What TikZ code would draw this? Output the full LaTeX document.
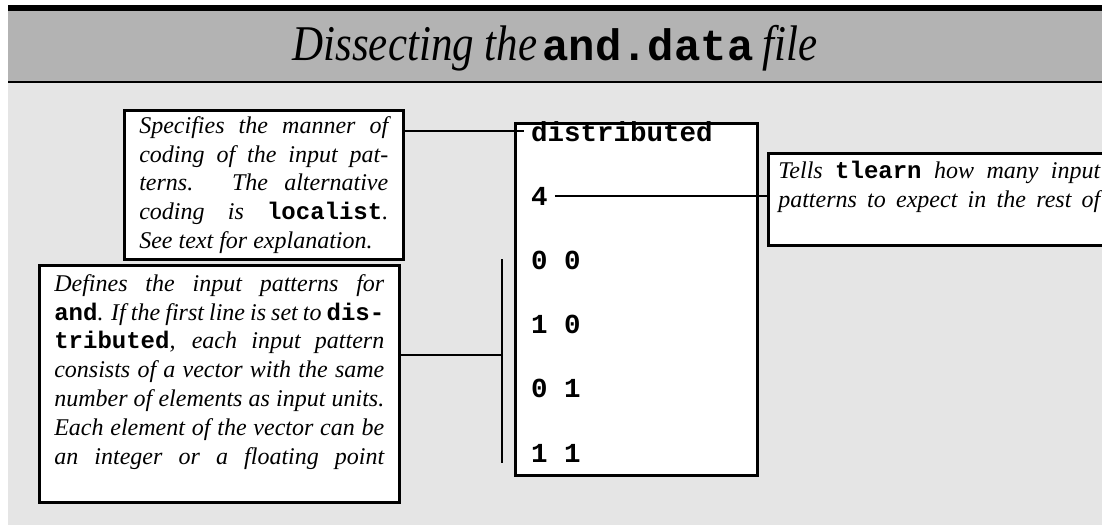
\documentclass[tikz,border=0pt]{standalone}
\usepackage{fontspec}
\setmainfont{Liberation Serif}
\setmonofont{Liberation Mono}
\usepackage{graphicx}
\definecolor{bgl}{HTML}{E5E5E5}
\definecolor{bgd}{HTML}{B3B3B3}
\newcommand\mycode[1]{\textup{\ttfamily\bfseries #1}}
\newcommand\jl[1]{\makebox[\linewidth][s]{#1}\par}
\newcommand\nl[1]{\makebox[\linewidth][l]{#1}\par}
\newcommand\txtfont{\fontsize{24}{28.8}\selectfont\itshape}
\newcommand\ttit[1]{\scalebox{0.86}[1]{\fontsize{50}{50}\selectfont\itshape #1}}
\begin{document}
\begin{tikzpicture}[x=1pt,y=-1pt,
  box/.style={draw, line width=2.6pt, fill=white, anchor=north west},
  conn/.style={line width=2pt},
  row/.style={anchor=base west, inner xsep=7pt, inner ysep=2pt,
    font=\fontsize{27.5}{30}\selectfont\ttfamily\bfseries}]
\useasboundingbox (0,0) rectangle (1102,525);
\clip (0,0) rectangle (1102,525);
\fill[white] (0,0) rectangle (1102,525);
\fill[bgl] (8,5) rectangle (1102,525);
\fill[bgd] (8,5) rectangle (1102,83);
\fill[black] (8,5) rectangle (1102,11);
\fill[black] (8,80.5) rectangle (1102,83);

\node[anchor=base, inner sep=0] (title) at (555,60)
  {\ttit{Dissecting the}\hspace{5pt}{\fontsize{44}{44}\selectfont\ttfamily\bfseries and.data}\hspace{9pt}\ttit{file}};

\node[box, inner xsep=15pt, inner ysep=6pt] (tl) at (123,109)
  {\parbox[c][137pt][t]{249pt}{\txtfont
   \jl{Specifies the manner of}
   \jl{coding of the input pat-}
   \jl{terns. The alternative}
   \jl{coding is \mycode{localist}.}
   \nl{See text for explanation.}}};

\node[box, inner xsep=15pt, inner ysep=9pt] (bl) at (38,264)
  {\parbox[c][219pt][t]{330pt}{\txtfont
   \jl{Defines the input patterns for}
   \jl{\mycode{and}. If the first line is set to \mycode{dis-}}
   \jl{\mycode{tributed}, each input pattern}
   \jl{consists of a vector with the same}
   \jl{number of elements as input units.}
   \jl{Each element of the vector can be}
   \jl{an integer or a floating point}}};

\node[box, inner xsep=10pt, inner ysep=8pt] (tr) at (767,152)
  {\parbox[c][76pt][t]{322pt}{\txtfont
   \jl{Tells \mycode{tlearn} how many input}
   \jl{patterns to expect in the rest of}}};

\node[box, minimum width=242pt, minimum height=352pt, inner sep=0] (data) at (514,122) {};

\node[row] (dist) at (524,141) {distributed};
\node[row] (four) at (524,205.2) {4};
\node[row] (r1) at (524,269.4) {0 0};
\node[row] (r2) at (524,333.6) {1 0};
\node[row] (r3) at (524,397.8) {0 1};
\node[row] (r4) at (524,462) {1 1};

\coordinate (bt) at (502,259);
\coordinate (bb) at (502,463);
\coordinate (bm) at (502,355);

\draw[conn] (tl.east |- dist.center) -- (dist.west);
\draw[conn] (four.east) -- (four.east -| tr.west);
\draw[conn] (bt) -- (bb);
\draw[conn] (bl.east |- bm) -- (bm);
\end{tikzpicture}
\end{document}
